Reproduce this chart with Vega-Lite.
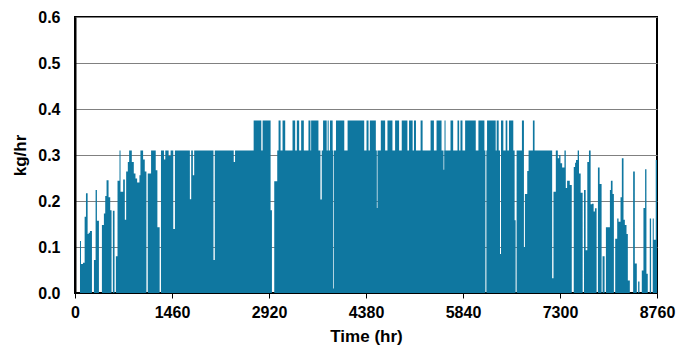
{
  "$schema": "https://vega.github.io/schema/vega-lite/v6.json",
  "width": 582,
  "height": 276,
  "autosize": {"type": "none"},
  "padding": {"left": 75, "top": 17, "right": 23, "bottom": 55},
  "background": "white",
  "config": {
    "font": "Liberation Sans",
    "view": {"stroke": "black", "strokeWidth": 2},
    "axis": {
      "labelFont": "Liberation Sans",
      "titleFont": "Liberation Sans",
      "labelFontWeight": "bold",
      "titleFontWeight": "bold",
      "labelColor": "black",
      "titleColor": "black",
      "labelFontSize": 16,
      "titleFontSize": 17,
      "domainColor": "black",
      "tickColor": "black",
      "gridColor": "#808080",
      "gridOpacity": 1,
      "gridWidth": 1
    }
  },
  "data": {
    "values": [
      {"t": 0, "v": 0}, {"t": 75, "v": 0.113}, {"t": 90, "v": 0.063}, {"t": 120, "v": 0.066},
      {"t": 145, "v": 0.166}, {"t": 165, "v": 0.217}, {"t": 190, "v": 0.128}, {"t": 205, "v": 0.131},
      {"t": 225, "v": 0.135}, {"t": 255, "v": 0}, {"t": 285, "v": 0.072}, {"t": 310, "v": 0.224},
      {"t": 330, "v": 0.157}, {"t": 360, "v": 0}, {"t": 405, "v": 0.148}, {"t": 435, "v": 0.173},
      {"t": 455, "v": 0.211}, {"t": 475, "v": 0.245}, {"t": 505, "v": 0.208}, {"t": 530, "v": 0.18},
      {"t": 550, "v": 0}, {"t": 570, "v": 0.179}, {"t": 595, "v": 0}, {"t": 615, "v": 0.08},
      {"t": 640, "v": 0.244}, {"t": 670, "v": 0.31}, {"t": 685, "v": 0.22}, {"t": 725, "v": 0.247},
      {"t": 750, "v": 0.159}, {"t": 770, "v": 0.264}, {"t": 795, "v": 0.285}, {"t": 815, "v": 0.31},
      {"t": 855, "v": 0.285}, {"t": 885, "v": 0.26}, {"t": 910, "v": 0.249}, {"t": 935, "v": 0.24},
      {"t": 970, "v": 0.256}, {"t": 985, "v": 0.31}, {"t": 1025, "v": 0.29}, {"t": 1050, "v": 0.264},
      {"t": 1075, "v": 0}, {"t": 1095, "v": 0.26}, {"t": 1145, "v": 0.31}, {"t": 1215, "v": 0.267},
      {"t": 1240, "v": 0.143}, {"t": 1274, "v": 0}, {"t": 1294, "v": 0.31}, {"t": 1339, "v": 0.29},
      {"t": 1359, "v": 0.31}, {"t": 1409, "v": 0.298}, {"t": 1439, "v": 0.31}, {"t": 1479, "v": 0.139},
      {"t": 1504, "v": 0.31}, {"t": 1729, "v": 0.204}, {"t": 1749, "v": 0.31}, {"t": 1774, "v": 0.256},
      {"t": 1794, "v": 0.31}, {"t": 2084, "v": 0.072}, {"t": 2104, "v": 0.31}, {"t": 2389, "v": 0.285},
      {"t": 2409, "v": 0.31}, {"t": 2689, "v": 0.375}, {"t": 2804, "v": 0.31}, {"t": 2824, "v": 0.375},
      {"t": 2944, "v": 0.18}, {"t": 2964, "v": 0}, {"t": 2999, "v": 0.243}, {"t": 3044, "v": 0.31},
      {"t": 3064, "v": 0.375}, {"t": 3094, "v": 0.31}, {"t": 3124, "v": 0.375}, {"t": 3164, "v": 0.31},
      {"t": 3274, "v": 0.375}, {"t": 3314, "v": 0.31}, {"t": 3339, "v": 0.375}, {"t": 3374, "v": 0.31},
      {"t": 3404, "v": 0.375}, {"t": 3444, "v": 0.31}, {"t": 3514, "v": 0.375}, {"t": 3544, "v": 0.31},
      {"t": 3554, "v": 0.375}, {"t": 3664, "v": 0.31}, {"t": 3694, "v": 0.203}, {"t": 3714, "v": 0.31},
      {"t": 3734, "v": 0.375}, {"t": 3788, "v": 0.31}, {"t": 3803, "v": 0.375}, {"t": 3818, "v": 0.31},
      {"t": 3838, "v": 0.375}, {"t": 3878, "v": 0.31}, {"t": 3888, "v": 0.01}, {"t": 3898, "v": 0.31},
      {"t": 3928, "v": 0.375}, {"t": 4053, "v": 0.31}, {"t": 4103, "v": 0.375}, {"t": 4353, "v": 0.31},
      {"t": 4388, "v": 0.375}, {"t": 4418, "v": 0.31}, {"t": 4438, "v": 0.375}, {"t": 4528, "v": 0.31},
      {"t": 4543, "v": 0.185}, {"t": 4553, "v": 0.31}, {"t": 4603, "v": 0.375}, {"t": 4668, "v": 0.31},
      {"t": 4703, "v": 0.375}, {"t": 4778, "v": 0.31}, {"t": 4818, "v": 0.375}, {"t": 4878, "v": 0.31},
      {"t": 4918, "v": 0.375}, {"t": 5003, "v": 0.31}, {"t": 5028, "v": 0.375}, {"t": 5082, "v": 0.31},
      {"t": 5102, "v": 0.375}, {"t": 5132, "v": 0.31}, {"t": 5202, "v": 0.375}, {"t": 5232, "v": 0.31},
      {"t": 5352, "v": 0.375}, {"t": 5402, "v": 0.31}, {"t": 5442, "v": 0.375}, {"t": 5517, "v": 0.31},
      {"t": 5547, "v": 0.268}, {"t": 5557, "v": 0.31}, {"t": 5562, "v": 0.375}, {"t": 5577, "v": 0.31},
      {"t": 5652, "v": 0.375}, {"t": 5692, "v": 0.31}, {"t": 5757, "v": 0.375}, {"t": 5782, "v": 0.31},
      {"t": 5802, "v": 0.375}, {"t": 5832, "v": 0.31}, {"t": 5872, "v": 0.375}, {"t": 6032, "v": 0.31},
      {"t": 6072, "v": 0.375}, {"t": 6162, "v": 0.31}, {"t": 6177, "v": 0}, {"t": 6192, "v": 0.31},
      {"t": 6202, "v": 0.375}, {"t": 6332, "v": 0.31}, {"t": 6347, "v": 0.375}, {"t": 6377, "v": 0.31},
      {"t": 6397, "v": 0.085}, {"t": 6412, "v": 0.375}, {"t": 6447, "v": 0.31}, {"t": 6482, "v": 0.375},
      {"t": 6507, "v": 0.31}, {"t": 6532, "v": 0.375}, {"t": 6597, "v": 0.31}, {"t": 6617, "v": 0.158},
      {"t": 6632, "v": 0}, {"t": 6647, "v": 0.31}, {"t": 6727, "v": 0.375}, {"t": 6757, "v": 0.1},
      {"t": 6772, "v": 0.215}, {"t": 6807, "v": 0.265}, {"t": 6827, "v": 0.31}, {"t": 6892, "v": 0.375},
      {"t": 6917, "v": 0.31}, {"t": 7182, "v": 0.032}, {"t": 7202, "v": 0.22}, {"t": 7237, "v": 0.31},
      {"t": 7267, "v": 0.293}, {"t": 7287, "v": 0.3}, {"t": 7307, "v": 0.282}, {"t": 7332, "v": 0.273},
      {"t": 7367, "v": 0.31}, {"t": 7387, "v": 0.228}, {"t": 7407, "v": 0.244}, {"t": 7447, "v": 0.235},
      {"t": 7477, "v": 0}, {"t": 7507, "v": 0.274}, {"t": 7527, "v": 0.283}, {"t": 7541, "v": 0.289},
      {"t": 7566, "v": 0.31}, {"t": 7586, "v": 0.26}, {"t": 7611, "v": 0.218}, {"t": 7641, "v": 0},
      {"t": 7661, "v": 0.224}, {"t": 7686, "v": 0.093}, {"t": 7711, "v": 0.285}, {"t": 7736, "v": 0.31},
      {"t": 7761, "v": 0.193}, {"t": 7781, "v": 0.194}, {"t": 7806, "v": 0.177}, {"t": 7826, "v": 0.184},
      {"t": 7851, "v": 0}, {"t": 7871, "v": 0.273}, {"t": 7896, "v": 0.237}, {"t": 7926, "v": 0},
      {"t": 7941, "v": 0.08}, {"t": 7971, "v": 0}, {"t": 7991, "v": 0.143}, {"t": 8051, "v": 0.224},
      {"t": 8066, "v": 0.244}, {"t": 8091, "v": 0.215}, {"t": 8111, "v": 0}, {"t": 8131, "v": 0.118},
      {"t": 8161, "v": 0.162}, {"t": 8181, "v": 0.155}, {"t": 8211, "v": 0.208}, {"t": 8231, "v": 0.293},
      {"t": 8256, "v": 0.159}, {"t": 8276, "v": 0.148}, {"t": 8301, "v": 0.128}, {"t": 8321, "v": 0.027},
      {"t": 8351, "v": 0}, {"t": 8401, "v": 0.264}, {"t": 8426, "v": 0.064}, {"t": 8456, "v": 0},
      {"t": 8476, "v": 0.025}, {"t": 8496, "v": 0}, {"t": 8531, "v": 0.049}, {"t": 8556, "v": 0.185},
      {"t": 8581, "v": 0.269}, {"t": 8601, "v": 0.042}, {"t": 8621, "v": 0}, {"t": 8651, "v": 0.162},
      {"t": 8671, "v": 0}, {"t": 8696, "v": 0.162}, {"t": 8711, "v": 0.116}, {"t": 8741, "v": 0.289},
      {"t": 8760, "v": 0.289}
    ]
  },
  "mark": {"type": "area", "interpolate": "step-after", "color": "#0F77A0", "clip": true},
  "encoding": {
    "x": {
      "field": "t",
      "type": "quantitative",
      "scale": {"domain": [0, 8760], "nice": false, "zero": false},
      "axis": {
        "title": "Time (hr)",
        "values": [0, 1460, 2920, 4380, 5840, 7300, 8760],
        "format": "d",
        "grid": false,
        "tickSize": 5,
        "labelPadding": 6,
        "labelFlush": false,
        "labelOverlap": false,
        "titlePadding": 8,
        "domainWidth": 1
      }
    },
    "y": {
      "field": "v",
      "type": "quantitative",
      "scale": {"domain": [0, 0.6], "nice": false},
      "axis": {
        "title": "kg/hr",
        "values": [0, 0.1, 0.2, 0.3, 0.4, 0.5, 0.6],
        "format": ".1f",
        "grid": true,
        "tickSize": 0,
        "labelPadding": 15,
        "titlePadding": 8,
        "domainWidth": 2
      }
    }
  }
}
